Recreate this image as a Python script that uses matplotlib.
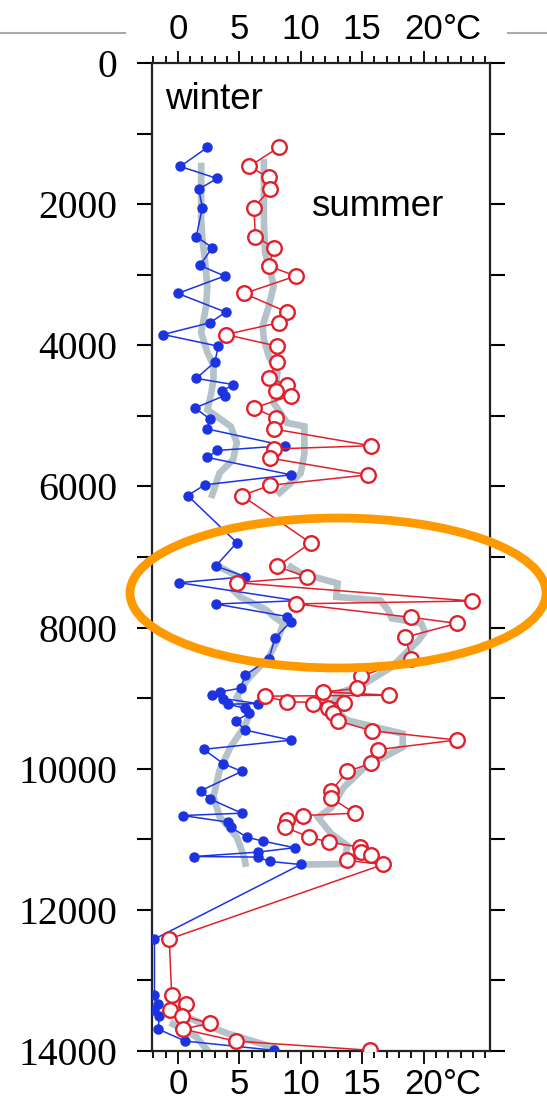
import numpy as np
import matplotlib
matplotlib.use('Agg')
import matplotlib.pyplot as plt
from matplotlib.patches import Ellipse
from matplotlib.lines import Line2D

# winter series (depth, temperature)
winter_depth = [1197, 1467, 1637, 1789, 2049, 2460, 2617, 2868, 3020, 3266, 3531, 3682, 3848, 4014,
                4241, 4470, 4557, 4652, 4714, 4889, 5045, 5187, 5424, 5491, 5590, 5836, 5978, 6130,
                6797, 7128, 7280, 7365, 7620, 7667, 7845, 7916, 8152, 8450, 8672, 8860, 8912, 8955,
                9006, 9078, 9087, 9147, 9218, 9322, 9454, 9596, 9726, 9929, 10039, 10310, 10428,
                10631, 10664, 10758, 10829, 10970, 11026, 11120, 11183, 11245, 11253, 11315, 11358,
                12414, 13210, 13330, 13425, 13500, 13690, 13860, 13990]
winter_temp = [2.4, 0.2, 3.2, 1.7, 2.0, 1.5, 2.8, 1.8, 3.8, 0.0, 3.9, 2.6, -1.2, 3.3,
               3.0, 1.5, 4.5, 3.6, 3.8, 1.4, 2.6, 2.4, 8.7, 3.2, 2.4, 9.2, 2.2, 0.8,
               4.8, 3.1, 5.5, 0.1, 9.7, 3.1, 8.9, 9.2, 7.9, 7.4, 5.5, 5.1, 3.4, 2.8,
               3.7, 6.5, 4.1, 5.5, 5.8, 4.7, 5.5, 9.2, 2.1, 3.7, 5.2, 1.9, 2.6,
               5.2, 0.4, 4.1, 4.3, 5.6, 6.9, 9.5, 6.5, 1.3, 6.5, 7.5, 10.0,
               -1.9, -1.9, -1.6, -1.9, -1.5, -1.6, 0.6, 7.8]

# summer series (depth, temperature)
summer_depth = [1197, 1467, 1623, 1789, 2049, 2460, 2617, 2877, 3020, 3266, 3531, 3682, 3848, 4014,
                4241, 4470, 4557, 4652, 4714, 4889, 5031, 5187, 5424, 5470, 5599, 5836, 5985, 6130,
                6800, 7135, 7285, 7365, 7624, 7665, 7856, 7941, 8138, 8440, 8690, 8864, 8912, 8959,
                8973, 9053, 9068, 9087, 9147, 9218, 9322, 9464, 9594, 9730, 9925, 10039, 10310,
                10420, 10631, 10664, 10734, 10829, 10970, 11041, 11112, 11183, 11230, 11301, 11358,
                12414, 13210, 13330, 13425, 13500, 13610, 13690, 13860, 13990]
summer_temp = [8.2, 5.8, 7.4, 7.5, 6.2, 6.3, 7.8, 7.4, 9.6, 5.4, 8.9, 8.2, 3.9, 8.1,
               8.1, 7.4, 8.9, 8.0, 9.2, 6.2, 8.0, 7.8, 15.7, 7.8, 7.5, 15.5, 7.5, 5.2,
               10.8, 8.1, 10.5, 4.8, 23.9, 9.6, 19.0, 22.7, 18.5, 19.0, 14.9, 14.6, 11.8, 17.2,
               7.1, 8.9, 13.5, 11.0, 12.2, 12.6, 13.0, 15.8, 22.7, 16.3, 15.7, 13.8, 12.5,
               12.5, 14.4, 10.2, 8.9, 8.7, 10.7, 12.3, 14.8, 14.9, 15.7, 13.8, 16.7,
               -0.7, -0.5, 0.7, -0.6, 0.3, 2.6, 0.4, 4.7, 15.6]

# smoothed curves (grey), NaN = gap
winter_smooth_depth = [1460, 1800, 2214, 2500, 2782, 3162, 3450, 3820, 4100, 4290, 4486, 4700, 4913,
                       5150, 5380, 5620, 5810, 6120, 6500,
                       7140, 7290, 7470, 7570, 7750, 7845, 7940, 8180, 8420, 8750, 8985, 9250,
                       9410, 9690, 10020, 10400, 10680, 10970, 11253, 11345, 12500,
                       13620, 13800, 13990]
winter_smooth_temp = [1.9, 1.9, 1.9, 2.0, 2.2, 2.4, 2.3, 1.9, 2.4, 2.9, 2.9, 2.7, 2.4,
                      4.3, 4.8, 4.5, 3.4, 2.8, np.nan,
                      3.4, 5.0, 4.5, 5.1, 7.2, 7.8, 8.6, 8.1, 7.4, 5.6, 4.8, 5.8,
                      5.4, 4.3, 3.4, 2.9, 3.4, 4.8, 5.4, 5.5, np.nan,
                      -0.4, 1.5, 2.4]
summer_smooth_depth = [1410, 1800, 2214, 2690, 2925, 3162, 3446, 3730, 3920, 4155, 4390, 4820,
                       5100, 5150, 5530, 5810, 5950, 6090, 6500,
                       7140, 7230, 7375, 7565, 7620, 7750, 7870, 7940, 8060, 8180, 8560, 8795,
                       8935, 9125, 9315, 9505, 9695, 9980, 10265, 10550, 10690, 10925, 11090,
                       11350, 11358, 12500,
                       13540, 13750, 13950]
summer_smooth_temp = [7.0, 7.0, 7.0, 7.1, 7.5, 7.8, 7.4, 6.9, 7.0, 7.4, 8.1, 7.8,
                      8.9, 10.3, 10.3, 10.0, 9.2, 8.3, np.nan,
                      9.2, 10.0, 13.0, 12.9, 16.5, 17.1, 17.4, 19.8, 20.1, 19.6, 17.4, 15.2,
                      13.0, 12.5, 13.8, 18.3, 18.3, 15.2, 13.5, 12.5, 11.4, 12.5, 13.8,
                      13.5, 10.5, np.nan,
                      1.0, 4.0, 7.8]

x_major = [0, 5, 10, 15, 20]
x_labels = ['0', '5', '10', '15', '20']
y_major = [0, 2000, 4000, 6000, 8000, 10000, 12000, 14000]

fig = plt.figure(figsize=(5.47, 11.14), dpi=100)
ax = fig.add_axes([0.2779, 0.0566, 0.6179, 0.8869])

grey = '#b4c2ca'
blue = '#1c34e0'
red = '#e0202c'

ax.plot(winter_smooth_temp, winter_smooth_depth, color=grey, lw=4.8, zorder=1, solid_joinstyle='miter')
ax.plot(summer_smooth_temp, summer_smooth_depth, color=grey, lw=4.8, zorder=1, solid_joinstyle='miter')
ax.plot(winter_temp, winter_depth, color=blue, lw=1.1, marker='o', ms=6.5,
        mfc=blue, mec=blue, zorder=3)
ax.plot(summer_temp, summer_depth, color=red, lw=1.1, marker='o', ms=10.5,
        mfc='white', mec=red, mew=1.7, zorder=4)

ax.set_xlim(-2.1, 25.4)
ax.set_ylim(14000, 0)

tick_fs = 25
ax.set_xticks(x_major)
ax.set_xticklabels(x_labels, fontsize=tick_fs, family='Liberation Sans')
ax.set_xticks(np.arange(-2, 26, 1), minor=True)
ax.tick_params(axis='x', which='both', top=True, labeltop=True, bottom=True,
               labelbottom=True, direction='out', width=1.3)
ax.tick_params(axis='x', which='major', length=9, pad=3)
ax.tick_params(axis='x', which='minor', length=5)

# unit after the "20" label, top and bottom
for yy, dy, va in [(1, 12, 'bottom'), (0, -12, 'top')]:
    ax.annotate('°C', xy=(21.55, yy), xycoords=('data', 'axes fraction'),
                xytext=(0, dy), textcoords='offset points', ha='left', va=va,
                fontsize=tick_fs, family='Liberation Sans', annotation_clip=False)

ax.set_yticks(y_major)
ax.set_yticklabels([str(v) for v in y_major], fontsize=28.5, family='Liberation Serif')
ax.set_yticks(np.arange(0, 14001, 1000), minor=True)
ax.tick_params(axis='y', which='both', left=True, right=True, direction='out',
               length=11, width=1.5, pad=14)

for s in ax.spines.values():
    s.set_linewidth(1.6)
    s.set_color('#222222')

ax.text(-1.0, 520, 'winter', fontsize=26.5, family='Liberation Sans', va='center', ha='left')
ax.text(10.8, 2040, 'summer', fontsize=26.5, family='Liberation Sans', va='center', ha='left')

# highlight ellipse
ell = Ellipse((338 / 547, 1 - 593 / 1114), 416 / 547, 150 / 1114,
              transform=fig.transFigure, fill=False, edgecolor='#ff9900', lw=6.3, zorder=10)
fig.add_artist(ell)

# thin rules at the top of the page
fig.add_artist(Line2D([0, 125 / 547], [1 - 33 / 1114] * 2, transform=fig.transFigure,
                      color='#aaaaaa', lw=1.5))
fig.add_artist(Line2D([508 / 547, 1], [1 - 33 / 1114] * 2, transform=fig.transFigure,
                      color='#aaaaaa', lw=1.5))

plt.savefig('out.png', dpi=100)
